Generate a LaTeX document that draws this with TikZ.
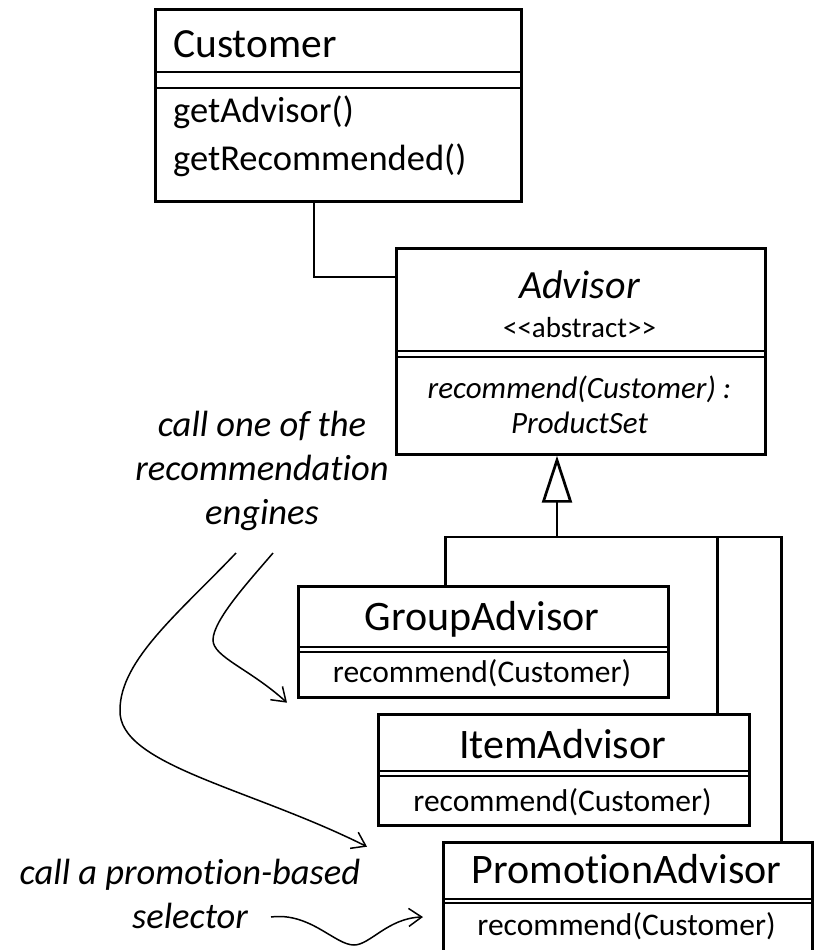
\documentclass[tikz,border=0pt]{standalone}
\usepackage{fontspec}
\setmainfont{Carlito}[Ligatures=NoCommon]
\usetikzlibrary{arrows.meta}
\begin{document}
\begin{tikzpicture}[x=1pt,y=-1pt,
  box/.style={draw, line width=2.7pt, rectangle, inner sep=0pt, anchor=north west},
  ln/.style={line width=2.7pt},
  note/.style={line width=1.5pt, -{Straight Barb[length=13pt,width=18pt]}},
  ttl/.style={font=\fontsize{42}{50}\selectfont, inner sep=0pt, anchor=base},
  mth/.style={font=\fontsize{31.5}{38}\selectfont, inner sep=0pt, anchor=base},
  cmth/.style={font=\fontsize{36.5}{44}\selectfont, inner sep=0pt, anchor=base west},
  anno/.style={font=\fontsize{36.5}{44}\selectfont\itshape, inner sep=0pt, anchor=base}
]
\clip (0,0) rectangle (817,950);
\fill[white] (0,0) rectangle (817,950);

% Customer
\node[box, minimum width=366pt, minimum height=192pt] (cust) at (154,8) {};
\draw[ln] (154,72) -- (520,72);
\draw[ln] (154,88) -- (520,88);
\node[font=\fontsize{41.5}{50}\selectfont, inner sep=0pt, anchor=base west] (custname) at (173,58) {Customer};
\node[cmth] (cm1) at (173,122) {getAdvisor()};
\node[cmth] (cm2) at (173,170) {getRecommended()};

% Advisor
\node[box, minimum width=369pt, minimum height=206pt] (adv) at (395,247) {};
\draw[ln] (395,351) -- (764,351);
\draw[ln] (395,357) -- (764,357);
\node[ttl, font=\fontsize{40}{48}\selectfont\itshape] (advname) at (579.5,298) {Advisor};
\node[mth, font=\fontsize{29}{35}\selectfont] (advst) at (579.5,337) {<\kern0pt<abstract>\kern0pt>};
\node[mth, font=\fontsize{31}{38}\selectfont\itshape] (advm1) at (579.5,398) {recommend(Customer) :};
\node[mth, font=\fontsize{31}{38}\selectfont\itshape] (advm2) at (579.5,433) {ProductSet};

% GroupAdvisor
\node[box, minimum width=370pt, minimum height=111pt] (grp) at (297,585) {};
\draw[ln] (297,647) -- (667,647);
\draw[ln] (297,652) -- (667,652);
\node[ttl] (grpname) at (482,630) {GroupAdvisor};
\node[mth] (grpm) at (482,682) {recommend(Customer)};

% ItemAdvisor
\node[box, minimum width=371pt, minimum height=111pt] (itm) at (377,713) {};
\draw[ln] (377,771) -- (748,771);
\draw[ln] (377,776) -- (748,776);
\node[ttl] (itmname) at (562.5,758) {ItemAdvisor};
\node[mth] (itmm) at (562.5,811) {recommend(Customer)};

% PromotionAdvisor
\node[box, minimum width=369pt, minimum height=111pt] (prm) at (442,841) {};
\draw[ln] (442,899) -- (811,899);
\draw[ln] (442,903) -- (811,903);
\node[ttl] (prmname) at (626.5,883) {PromotionAdvisor};
\node[mth] (prmm) at (626.5,935) {recommend(Customer)};

% association Customer -- Advisor
\draw[ln] ([xshift=160pt]cust.south west) |- ([yshift=-30pt]adv.north west);

% generalization
\coordinate (bM) at (557,537);
\draw[ln, -{Triangle[open, length=47pt, width=30pt]}] (bM) -- (bM |- adv.south);
\draw[ln] ([xshift=-38pt]grp.north) |- (bM);
\draw[ln] ([xshift=153.5pt]itm.north) |- (bM);
\draw[ln] (bM) -| ([xshift=153.5pt]prm.north);

% annotations
\node[anno] (a1) at (262,436) {call one of the};
\node[anno] (a2) at (262,480) {recommendation};
\node[anno] (a3) at (262,524) {engines};
\node[anno] (b1) at (190,884) {call a promotion-based};
\node[anno] (b2) at (190,928) {selector};

\coordinate (s1) at (273,553);
\coordinate (s2) at (236,553);
\coordinate (s3) at (271,917);
\coordinate (t1) at ([xshift=-10pt,yshift=-4pt]grp.south west);
\coordinate (t2) at ([xshift=-10pt,yshift=-20pt]itm.south west);
\coordinate (t3) at ([xshift=-19pt]prm.west |- 0,917);

\draw[note] (s1) .. controls (250,580) and (213,620) .. (213,640) .. controls (213,657) and (250,669) .. (t1);
\draw[note] (s2) .. controls (180,612) and (120,660) .. (120,710) .. controls (118,765) and (250,788) .. (t2);
\draw[note] (s3) .. controls (310,912) and (335,945) .. (354,945) .. controls (370,945) and (388,918) .. (t3);
\end{tikzpicture}
\end{document}
